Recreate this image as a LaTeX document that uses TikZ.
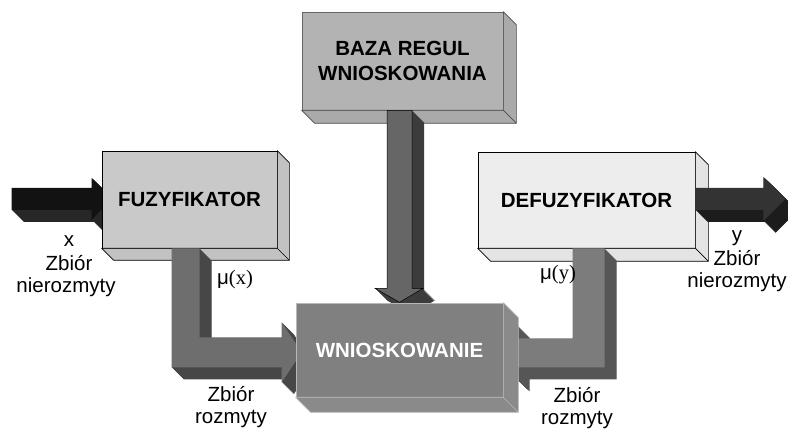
\documentclass[tikz,border=0pt]{standalone}
\usepackage{fontspec}
\setmainfont{Liberation Sans}
\newfontfamily\timesfam{Liberation Serif}
\usetikzlibrary{calc}

\pgfdeclarelayer{paper}
\pgfdeclarelayer{deep}
\pgfdeclarelayer{boxes}
\pgfdeclarelayer{pipes}
\pgfsetlayers{paper,deep,boxes,pipes,main}

\definecolor{fuzfront}{HTML}{C9C9C9}
\definecolor{fuzside}{HTML}{C2C2C2}
\definecolor{bazfront}{HTML}{B3B3B3}
\definecolor{bazside}{HTML}{AAAAAA}
\definecolor{wnifront}{HTML}{808080}
\definecolor{wniside}{HTML}{8A8A8A}
\definecolor{wniedge}{HTML}{B8B8B8}
\definecolor{deffront}{HTML}{EDEDED}
\definecolor{defside}{HTML}{E4E4E4}
\definecolor{vfront}{HTML}{666666}
\definecolor{vside}{HTML}{3C3C3C}
\definecolor{lfront}{HTML}{6E6E6E}
\definecolor{lside}{HTML}{474747}
\definecolor{rfront}{HTML}{7C7C7C}
\definecolor{rside}{HTML}{565656}
\definecolor{infront}{HTML}{121212}
\definecolor{inside}{HTML}{272727}
\definecolor{outfront}{HTML}{333333}
\definecolor{outside}{HTML}{1C1C1C}

% outlines of the solid block arrows, each starting at the point #1
\newcommand\inpath[1]{#1 -- ++(80,0) -- ++(0,-10) -- ++(20,21) -- ++(-20,21) -- ++(0,-10) -- ++(-80,0) -- cycle}
\newcommand\outpath[1]{#1 -- ++(68,0) -- ++(0,-11) -- ++(22,22) -- ++(-22,22) -- ++(0,-11) -- ++(-68,0) -- cycle}
\newcommand\downpath[1]{#1 -- ++(25,0) -- ++(0,178) -- ++(11,0) -- ++(-23.5,14) -- ++(-24.5,-14) -- ++(12,0) -- cycle}
\newcommand\leftLpath[1]{#1 -- ++(28,0) -- ++(0,89) -- ++(82,0) -- ++(0,-15) -- ++(20,30) -- ++(-20,30) -- ++(0,-15) -- ++(-110,0) -- cycle}
\newcommand\rightLpath[1]{#1 -- ++(32,0) -- ++(0,119) -- ++(-87,0) -- ++(0,12) -- ++(-28,-27) -- ++(28,-27) -- ++(0,13) -- ++(55,0) -- cycle}

% a solid arrow: side faces swept down-right, then the front face
\newcommand\solidarrow[4]{%
  \foreach \t in {0.5,1,...,12}{\fill[#4] #1{($#2+(\t,\t)$)};}
  \fill[#3] #1{#2};}

% right and bottom faces of a block
\newcommand\slabsides[4]{%
  \filldraw[fill=#3, draw=#4, line width=0.7pt, line join=round]
    (#1.north east) -- ([shift={(#2,#2)}]#1.north east) -- ([shift={(#2,#2)}]#1.south east)
    -- ([shift={(#2,#2)}]#1.south west) -- (#1.south west) -- (#1.south east) -- cycle;
  \draw[#4, line width=0.7pt] (#1.south east) -- ([shift={(#2,#2)}]#1.south east);}

\begin{document}
\begin{tikzpicture}[x=1pt, y=-1pt,
  slab/.style={rectangle, inner sep=0pt, line width=0.7pt, align=center,
    font=\bfseries\fontsize{20.5}{25}\selectfont},
  lbl/.style={anchor=base, inner sep=0pt, align=center,
    font=\fontsize{20.5}{22}\selectfont}]

\begin{pgfonlayer}{paper}
  \fill[white] (0,0) rectangle (788,430);
\end{pgfonlayer}
\useasboundingbox (0,0) rectangle (788,430);

% central block on top of everything
\node[slab, fill=wnifront, draw=wniedge, text=white, minimum width=207pt, minimum height=94pt]
  (wnio) at (399.5,350) {WNIOSKOWANIE};
\slabsides{wnio}{15}{wniside}{wniedge}

\begin{pgfonlayer}{boxes}
  \node[slab, fill=fuzfront, draw=black, minimum width=175pt, minimum height=97pt]
    (fuz) at (189.5,199.5) {FUZYFIKATOR};
  \slabsides{fuz}{12}{fuzside}{black}
  \node[slab, fill=bazfront, draw=black!60, minimum width=201pt, minimum height=98pt]
    (baza) at (402.5,61) {BAZA REGUL\\WNIOSKOWANIA};
  \slabsides{baza}{13}{bazside}{black!70}
  \node[slab, fill=deffront, draw=black, minimum width=217pt, minimum height=96pt]
    (defuz) at (586.5,200) {DEFUZYFIKATOR};
  \slabsides{defuz}{13}{defside}{black}
\end{pgfonlayer}

% anchor points of the block arrows
\coordinate (xin)  at ($(fuz.west)+(-90,-11.5)$);
\coordinate (yout) at ($(defuz.east)+(0,-12)$);
\coordinate (va)   at ($(wnio.north |- baza.south)+(-12.5,0)$);
\coordinate (lk)   at ([xshift=70]fuz.south west);
\coordinate (rk)   at ([xshift=95]defuz.south west);

\begin{pgfonlayer}{deep}
  \solidarrow{\inpath}{(xin)}{fill=infront}{fill=inside}
\end{pgfonlayer}

\begin{pgfonlayer}{pipes}
  \solidarrow{\downpath}{(va)}{fill=vfront, draw=black, line width=0.5pt}{fill=vside}
  \solidarrow{\leftLpath}{(lk)}{fill=lfront}{fill=lside}
  \solidarrow{\rightLpath}{(rk)}{fill=rfront}{fill=rside}
  \solidarrow{\outpath}{(yout)}{fill=outfront}{fill=outside}
\end{pgfonlayer}

% labels
\node[lbl] (lx)  at (69,247) {x};
\node[lbl] (lx2) at (69,271) {Zbiór};
\node[lbl] (lx3) at (66,293) {nierozmyty};
\node[lbl] (ly)  at (737,242) {y};
\node[lbl] (ly2) at (737,266) {Zbiór};
\node[lbl] (ly3) at (737,288) {nierozmyty};
\node[lbl] (mx)  at (235,285) {μ{\timesfam(x)}};
\node[lbl] (my)  at (558,280) {μ{\timesfam(y)}};
\node[lbl] (rx1) at (231,402) {Zbiór};
\node[lbl] (rx2) at (231,424) {rozmyty};
\node[lbl] (ry1) at (577,403) {Zbiór};
\node[lbl] (ry2) at (577,425) {rozmyty};

\end{tikzpicture}
\end{document}
